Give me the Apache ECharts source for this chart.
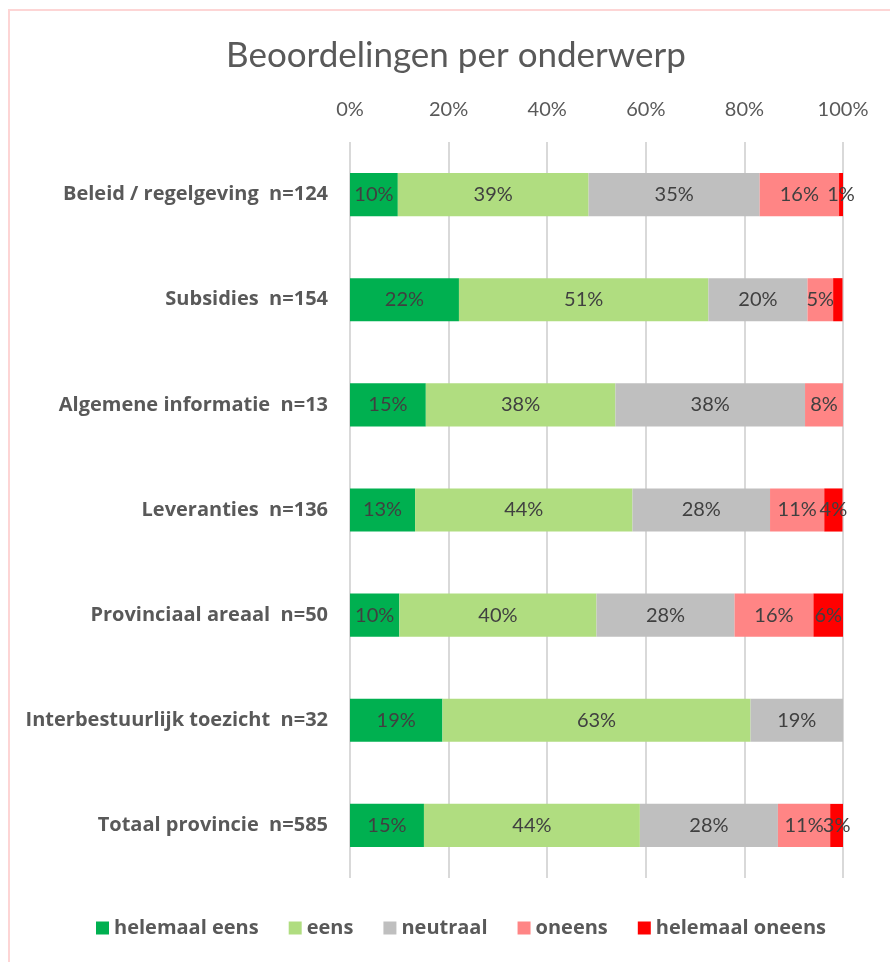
<!DOCTYPE html>
<html>
<head>
<meta charset="utf-8">
<script src="https://cdn.jsdelivr.net/npm/echarts@6/dist/echarts.min.js"></script>
<style>
html,body{margin:0;padding:0;background:#fff;}
#frame{position:absolute;left:8px;top:9px;width:900px;height:970px;border:2px solid #fdd5d5;box-sizing:border-box;}
#chart{position:absolute;left:0;top:0;width:890px;height:962px;}
</style>
</head>
<body>
<div id="frame"></div>
<div id="chart"></div>
<script>
const categories = [
  'Beleid / regelgeving  n=124',
  'Subsidies  n=154',
  'Algemene informatie  n=13',
  'Leveranties  n=136',
  'Provinciaal areaal  n=50',
  'Interbestuurlijk toezicht  n=32',
  'Totaal provincie  n=585'
];
const seriesNames = ['helemaal eens', 'eens', 'neutraal', 'oneens', 'helemaal oneens'];
const colors = ['#00b050', '#b0dd80', '#bfbfbf', '#ff8585', '#ff0000'];
const helemaalEens   = [9.7, 22.1, 15.38, 13.2, 10, 18.75, 15.0];
const eens           = [38.7, 50.6, 38.46, 44.1, 40, 62.5, 43.8];
const neutraal       = [34.7, 20.1, 38.46, 27.9, 28, 18.75, 28.0];
const oneens         = [16.1, 5.2, 7.69, 11.0, 16, 0, 10.6];
const helemaalOneens = [0.8, 1.9, 0, 3.7, 6, 0, 2.6];
// data labels not shown in the reference: [seriesIndex, categoryIndex]
const hiddenLabels = [[4, 1]];
const tickLabels = ['0%', '20%', '40%', '60%', '80%', '100%'];

const allValues = [helemaalEens, eens, neutraal, oneens, helemaalOneens];
const FONT = 'Lato, "Open Sans", sans-serif';
const BOLDFONT = '"Open Sans", Lato, sans-serif';

const series = allValues.map((vals, si) => ({
  name: seriesNames[si],
  type: 'bar',
  stack: 'total',
  barWidth: '41%',
  itemStyle: { color: colors[si] },
  label: {
    show: true,
    position: 'inside',
    color: '#404040',
    fontSize: 20,
    fontFamily: FONT,
    formatter: p => p.value > 0 ? Math.round(p.value) + '%' : ''
  },
  labelLayout: { hideOverlap: false },
  data: vals.map((v, ci) => {
    const hide = hiddenLabels.some(h => h[0] === si && h[1] === ci);
    return hide ? { value: v, label: { show: false } } : v;
  })
}));

const chart = echarts.init(document.getElementById('chart'), null, { renderer: 'canvas' });
chart.setOption({
  animation: false,
  backgroundColor: 'transparent',
  title: {
    text: 'Beoordelingen per onderwerp',
    left: 451,
    textAlign: 'center',
    top: 33,
    textStyle: { fontSize: 35, fontWeight: 'normal', color: '#595959', fontFamily: FONT }
  },
  legend: {
    bottom: 19,
    left: 91,
    itemWidth: 13,
    itemHeight: 13,
    itemGap: 30,
    icon: 'rect',
    textStyle: { fontSize: 20, fontWeight: 'bold', color: '#595959', fontFamily: BOLDFONT },
    data: seriesNames
  },
  grid: { left: 350, right: 47, top: 142, bottom: 84, containLabel: false },
  xAxis: {
    type: 'value',
    position: 'top',
    min: 0,
    max: 100,
    interval: 20,
    axisLine: { show: false },
    axisTick: { show: false },
    splitLine: { show: true, lineStyle: { color: '#d9d9d9', width: 2 } },
    axisLabel: {
      fontSize: 20,
      color: '#595959',
      fontFamily: FONT,
      margin: 22,
      formatter: v => tickLabels[Math.round(v / 20)]
    }
  },
  yAxis: {
    type: 'category',
    inverse: true,
    data: categories,
    axisLine: { show: false },
    axisTick: { show: false },
    axisLabel: {
      fontSize: 20,
      fontWeight: 'bold',
      color: '#595959',
      fontFamily: BOLDFONT,
      margin: 22
    }
  },
  series: series
});
</script>
</body>
</html>
